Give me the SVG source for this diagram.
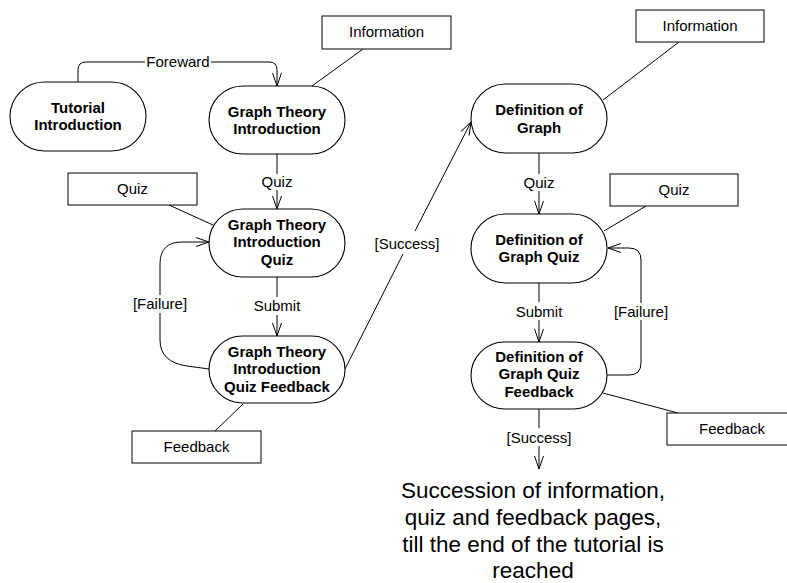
<svg xmlns="http://www.w3.org/2000/svg" width="787" height="583" viewBox="0 0 787 583">
  <style>
    .state { fill: #fff; stroke: #000; stroke-width: 1.1; }
    .box { fill: #fff; stroke: #000; stroke-width: 1; }
    .title { font-family: "Liberation Sans", Arial, sans-serif; font-size: 15px; font-weight: bold; text-anchor: middle; fill: #000; }
    .lbl { font-family: "Liberation Sans", Arial, sans-serif; font-size: 15px; text-anchor: middle; fill: #000; }
    .note { font-family: "Liberation Sans", Arial, sans-serif; font-size: 22.5px; text-anchor: middle; fill: #000; }
    .edge { fill: none; stroke: #000; stroke-width: 1; }
    .arrow { marker-end: url(#open); }
  </style>
  <defs>
    <marker id="open" markerUnits="userSpaceOnUse" markerWidth="16" markerHeight="12" refX="0" refY="0" viewBox="-13 -6 14 12" orient="auto" overflow="visible">
      <path d="M-13,-4.5 L0,0 L-13,4.5" fill="none" stroke="#000" stroke-width="1"/>
    </marker>
  </defs>

  <rect width="787" height="583" fill="#fff"/>

  <!-- connectors -->
  <g id="connectors">
    <!-- Foreward -->
    <path class="edge" d="M78,82 V70 Q78,62 86,62 H145"/>
    <path class="edge arrow" d="M211,62 H269 Q277,62 277,70 V86"/>
    <!-- Quiz (left) -->
    <path class="edge" d="M277,154 V174"/>
    <path class="edge arrow" d="M277,190 V209"/>
    <!-- Submit (left) -->
    <path class="edge" d="M277,277 V297"/>
    <path class="edge arrow" d="M277,315 V336"/>
    <!-- Failure (left) -->
    <path class="edge" d="M209,369 L187,366 Q160,362 160,340 V313"/>
    <path class="edge arrow" d="M160,295 V264 Q160,242 182,242 H209"/>
    <!-- Success (to Definition of Graph) -->
    <path class="edge" d="M345,369 L403,254"/>
    <path class="edge arrow" d="M415,231 L471,122"/>
    <!-- Quiz (right) -->
    <path class="edge" d="M539,153 V174"/>
    <path class="edge arrow" d="M539,191 V214"/>
    <!-- Submit (right) -->
    <path class="edge" d="M539,283 V302"/>
    <path class="edge arrow" d="M539,320 V342"/>
    <!-- Failure (right) -->
    <path class="edge" d="M607,375 H629 Q641,375 641,363 V320"/>
    <path class="edge arrow" d="M641,303 V260 Q641,248 629,248 H608"/>
    <!-- Success (bottom) -->
    <path class="edge" d="M539,409 V428"/>
    <path class="edge arrow" d="M539,446 V469"/>
    <!-- page associations -->
    <path class="edge" d="M363,49 L312,86"/>
    <path class="edge" d="M169,205 L213,225"/>
    <path class="edge" d="M215,431 L243,404"/>
    <path class="edge" d="M679,42 L603,100"/>
    <path class="edge" d="M646,206 L604,231"/>
    <path class="edge" d="M603,393 L678,413"/>

    <text class="lbl" x="178" y="67">Foreward</text>
    <text class="lbl" x="277" y="187">Quiz</text>
    <text class="lbl" x="277" y="311">Submit</text>
    <text class="lbl" x="160" y="309">[Failure]</text>
    <text class="lbl" x="407" y="249">[Success]</text>
    <text class="lbl" x="539" y="188">Quiz</text>
    <text class="lbl" x="539" y="317">Submit</text>
    <text class="lbl" x="641" y="317">[Failure]</text>
    <text class="lbl" x="539" y="443">[Success]</text>
  </g>

  <!-- activity states -->
  <g id="tutorial-introduction">
    <rect class="state" x="10" y="82" width="136" height="69" rx="34.5"/>
    <text class="title" x="78" y="113">Tutorial</text>
    <text class="title" x="78" y="130">Introduction</text>
  </g>
  <g id="graph-theory-introduction">
    <rect class="state" x="209" y="86" width="136" height="68" rx="34"/>
    <text class="title" x="277" y="117">Graph Theory</text>
    <text class="title" x="277" y="134">Introduction</text>
  </g>
  <g id="graph-theory-introduction-quiz">
    <rect class="state" x="209" y="209" width="136" height="68" rx="34"/>
    <text class="title" x="277" y="230">Graph Theory</text>
    <text class="title" x="277" y="247">Introduction</text>
    <text class="title" x="277" y="265">Quiz</text>
  </g>
  <g id="graph-theory-introduction-quiz-feedback">
    <rect class="state" x="209" y="336" width="136" height="67" rx="33.5"/>
    <text class="title" x="277" y="357">Graph Theory</text>
    <text class="title" x="277" y="374">Introduction</text>
    <text class="title" x="277" y="392">Quiz Feedback</text>
  </g>
  <g id="definition-of-graph">
    <rect class="state" x="471" y="84" width="136" height="69" rx="34.5"/>
    <text class="title" x="539" y="115">Definition of</text>
    <text class="title" x="539" y="133">Graph</text>
  </g>
  <g id="definition-of-graph-quiz">
    <rect class="state" x="471" y="214" width="136" height="69" rx="34.5"/>
    <text class="title" x="539" y="245">Definition of</text>
    <text class="title" x="539" y="262">Graph Quiz</text>
  </g>
  <g id="definition-of-graph-quiz-feedback">
    <rect class="state" x="471" y="342" width="136" height="67" rx="33.5"/>
    <text class="title" x="539" y="362">Definition of</text>
    <text class="title" x="539" y="379">Graph Quiz</text>
    <text class="title" x="539" y="397">Feedback</text>
  </g>

  <!-- page type boxes -->
  <g id="information-1">
    <rect class="box" x="322" y="16" width="129" height="33"/>
    <text class="lbl" x="386.5" y="37">Information</text>
  </g>
  <g id="quiz-1">
    <rect class="box" x="68" y="173" width="129" height="32"/>
    <text class="lbl" x="132.5" y="194">Quiz</text>
  </g>
  <g id="feedback-1">
    <rect class="box" x="132" y="431" width="129" height="32"/>
    <text class="lbl" x="196.5" y="452">Feedback</text>
  </g>
  <g id="information-2">
    <rect class="box" x="636" y="10" width="128" height="32"/>
    <text class="lbl" x="700" y="31">Information</text>
  </g>
  <g id="quiz-2">
    <rect class="box" x="610" y="174" width="128" height="32"/>
    <text class="lbl" x="674" y="195">Quiz</text>
  </g>
  <g id="feedback-2">
    <rect class="box" x="667" y="413" width="125" height="32"/>
    <text class="lbl" x="732" y="434">Feedback</text>
  </g>

  <!-- closing note -->
  <g id="continuation-note">
    <text class="note" x="533" y="498">Succession of information,</text>
    <text class="note" x="533" y="525">quiz and feedback pages,</text>
    <text class="note" x="533" y="552">till the end of the tutorial is</text>
    <text class="note" x="533" y="578">reached</text>
  </g>
</svg>
